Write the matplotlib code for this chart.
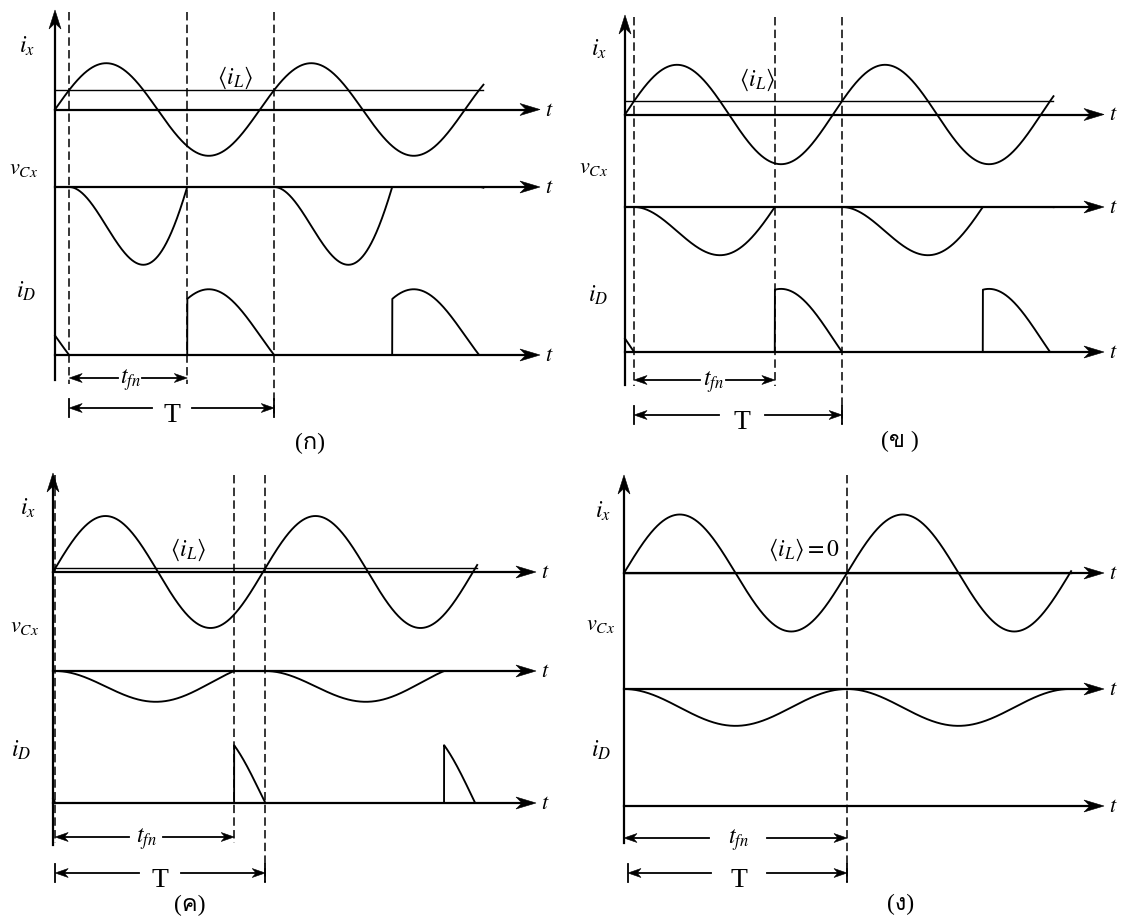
import numpy as np
import matplotlib
matplotlib.use('Agg')
import matplotlib.pyplot as plt
from matplotlib import font_manager
from matplotlib.ft2font import FT2Font
from matplotlib.patches import Polygon

plt.rcParams['mathtext.fontset'] = 'stix'

# waveform parameters (ix amplitude = 1, ix period = 1)
panel_tags = ['(ก)', '(ข )', '(ค)', '(ง)']
mean_il = [0.42, 0.27, 0.065, 0.0]       # <iL> above the ix axis
vcx_depth = [1.68, 0.97, 0.55, 0.63]     # deepest vCx swing
id_gain = [1.0, 1.0, 1.25, 1.0]          # iD drawing scale
t_end = [2.09, 2.06, 2.02, 2.005]        # periods drawn
mean_text = [r'$\langle i_L\rangle$'] * 3 + [r'$\langle i_L\rangle = 0$']

# panel geometry in pixels
layout = [
    dict(x0=55, yi=109.5, yv=187, yd=355, P=205, A=46.3, top=10, bot=380, tip=540, dtop=12,
         fn_y=378, T_y=408, ix_lab=(19, 53), vc_lab=(9, 174), id_lab=(16, 298), mean_lab=(217, 84),
         fn_c=130, fn_gap=12, T_c=172, T_gap=20, tag=(310, 443)),
    dict(x0=625, yi=114.5, yv=207, yd=352, P=208, A=49.7, top=15, bot=385, tip=1104, dtop=17,
         fn_y=380, T_y=415, ix_lab=(591, 56), vc_lab=(579, 173), id_lab=(588, 302), mean_lab=(739, 86),
         fn_c=713, fn_gap=13, T_c=742, T_gap=23, tag=(900, 441)),
    dict(x0=53, yi=572, yv=671, yd=803, P=210, A=56, top=473, bot=845, tip=536, dtop=475,
         fn_y=837, T_y=873, ix_lab=(20, 515), vc_lab=(10, 632), id_lab=(11, 757), mean_lab=(170, 556),
         fn_c=146, fn_gap=17, T_c=160, T_gap=21, tag=(190, 905)),
    dict(x0=624, yi=573, yv=689, yd=806, P=223, A=58.5, top=475, bot=843, tip=1104, dtop=475,
         fn_y=838, T_y=873, ix_lab=(595, 518), vc_lab=(586, 630), id_lab=(591, 757), mean_lab=(768, 556),
         fn_c=738, fn_gap=29, T_c=739, T_gap=28, tag=(901, 904)),
]


def thai_family():
    for f in font_manager.fontManager.ttflist:
        try:
            if FT2Font(f.fname).get_char_index(ord('ก')):
                return f.name
        except Exception:
            pass
    return 'DejaVu Sans'


def simulate(d, tmax, n=6000):
    t = np.linspace(0, tmax, n)
    dt = t[1] - t[0]
    ix = np.sin(2 * np.pi * t)
    vc = np.zeros(n)
    i_d = np.zeros(n)
    on = True
    events = []
    for k in range(n):
        if on:
            i_d[k] = d - ix[k]
            if i_d[k] <= 0:
                i_d[k] = 0
                on = False
                events.append(('off', t[k]))
        else:
            vc[k] = vc[k - 1] - (ix[k] - d) * dt
            if vc[k] >= 0:
                vc[k] = 0
                on = True
                events.append(('on', t[k]))
                i_d[k] = max(d - ix[k], 0)
    return t, ix, vc, i_d, events


def stealth(ax, x, y, dx, dy, L, W):
    px, py = -dy, dx
    pts = [(x, y),
           (x - dx * L + px * W / 2, y - dy * L + py * W / 2),
           (x - dx * L * 0.7, y - dy * L * 0.7),
           (x - dx * L - px * W / 2, y - dy * L - py * W / 2)]
    ax.add_patch(Polygon(pts, closed=True, fc='k', ec='k', lw=0.4, zorder=4))


def dim_arrow(ax, x1, x2, y, xc, gap):
    ax.plot([x1 + 6, xc - gap], [y, y], color='k', lw=1.3)
    ax.plot([xc + gap, x2 - 6], [y, y], color='k', lw=1.3)
    stealth(ax, x1, y, -1, 0, 13, 9)
    stealth(ax, x2, y, 1, 0, 13, 9)


tag_family = ['Liberation Serif', thai_family()]

fig = plt.figure(figsize=(11.21, 9.19), dpi=100)
ax = fig.add_axes([0, 0, 1, 1])
ax.set_xlim(0, 1121)
ax.set_ylim(919, 0)
ax.axis('off')

lw_axis = 1.6
lw_wave = 1.35

for i, g in enumerate(layout):
    d = mean_il[i]
    t, ix, vc, i_d, events = simulate(d, t_end[i])
    if vc.min() < 0:
        vc = vc / -vc.min() * vcx_depth[i]
    X = g['x0'] + t * g['P']
    A = g['A']

    # axes
    ax.plot([g['x0'], g['x0']], [g['bot'], g['top'] + 10], color='k', lw=lw_axis)
    stealth(ax, g['x0'], g['top'], 0, -1, 19, 12)
    for yb in (g['yi'], g['yv'], g['yd']):
        ax.plot([g['x0'], g['tip'] - 10], [yb, yb], color='k', lw=lw_axis)
        stealth(ax, g['tip'], yb, 1, 0, 20, 12)
        ax.text(g['tip'] + 5, yb, r'$t$', fontsize=16, ha='left', va='center')

    # waveforms
    ax.plot(X, g['yi'] - ix * A, color='k', lw=lw_wave)
    ax.plot([g['x0'], X[-1]], [g['yi'] - d * A] * 2, color='k', lw=1.0)
    ax.plot(X, g['yv'] - vc * A, color='k', lw=lw_wave)
    ax.plot(X, g['yd'] - i_d * id_gain[i] * A, color='k', lw=lw_wave)

    # switching instants
    offs = [tt for kind, tt in events if kind == 'off']
    ons = [tt for kind, tt in events if kind == 'on']
    t_off1 = offs[0]
    t_on1 = ons[0]
    x_off1 = g['x0'] + t_off1 * g['P']
    x_on1 = g['x0'] + t_on1 * g['P']
    x_off2 = g['x0'] + (t_off1 + 1) * g['P']
    dash = dict(color='k', lw=1.1, dashes=(5.5, 2.8))
    if t_off1 > 0:
        ax.plot([x_off1, x_off1], [g['dtop'], g['fn_y'] + 6], **dash)
        ax.plot([x_on1, x_on1], [g['dtop'], g['fn_y'] + 6], **dash)
        ax.plot([x_off2, x_off2], [g['dtop'], g['T_y'] + 9], **dash)
        x_fn_left = x_off1
    else:
        ax.plot([x_on1, x_on1], [g['dtop'], g['T_y'] + 9], **dash)
        x_fn_left = g['x0']
        x_off1 = g['x0'] + 4
        x_off2 = x_on1

    # t_fn and T spans
    dim_arrow(ax, x_fn_left, x_on1, g['fn_y'], g['fn_c'], g['fn_gap'])
    ax.text(g['fn_c'], g['fn_y'] + 6, r'$t_{fn}$', fontsize=17, ha='center', va='baseline')
    dim_arrow(ax, x_off1, x_off2, g['T_y'], g['T_c'], g['T_gap'])
    for xt in (x_off1, x_off2):
        ax.plot([xt, xt], [g['T_y'] - 9, g['T_y'] + 9], color='k', lw=1.3)
    ax.text(g['T_c'], g['T_y'] + 14, 'T', fontsize=20, family='Liberation Serif',
            ha='center', va='baseline')

    # signal names
    ax.text(*g['ix_lab'], r'$i_x$', fontsize=17, ha='left', va='baseline')
    ax.text(*g['vc_lab'], r'$v_{Cx}$', fontsize=16, ha='left', va='baseline')
    ax.text(*g['id_lab'], r'$i_D$', fontsize=17, ha='left', va='baseline')
    ax.text(*g['mean_lab'], mean_text[i], fontsize=17, ha='left', va='baseline')
    ax.text(*g['tag'], panel_tags[i], fontsize=17, family=tag_family,
            ha='center', va='center')

fig.savefig('out.png', dpi=100, facecolor='white')
